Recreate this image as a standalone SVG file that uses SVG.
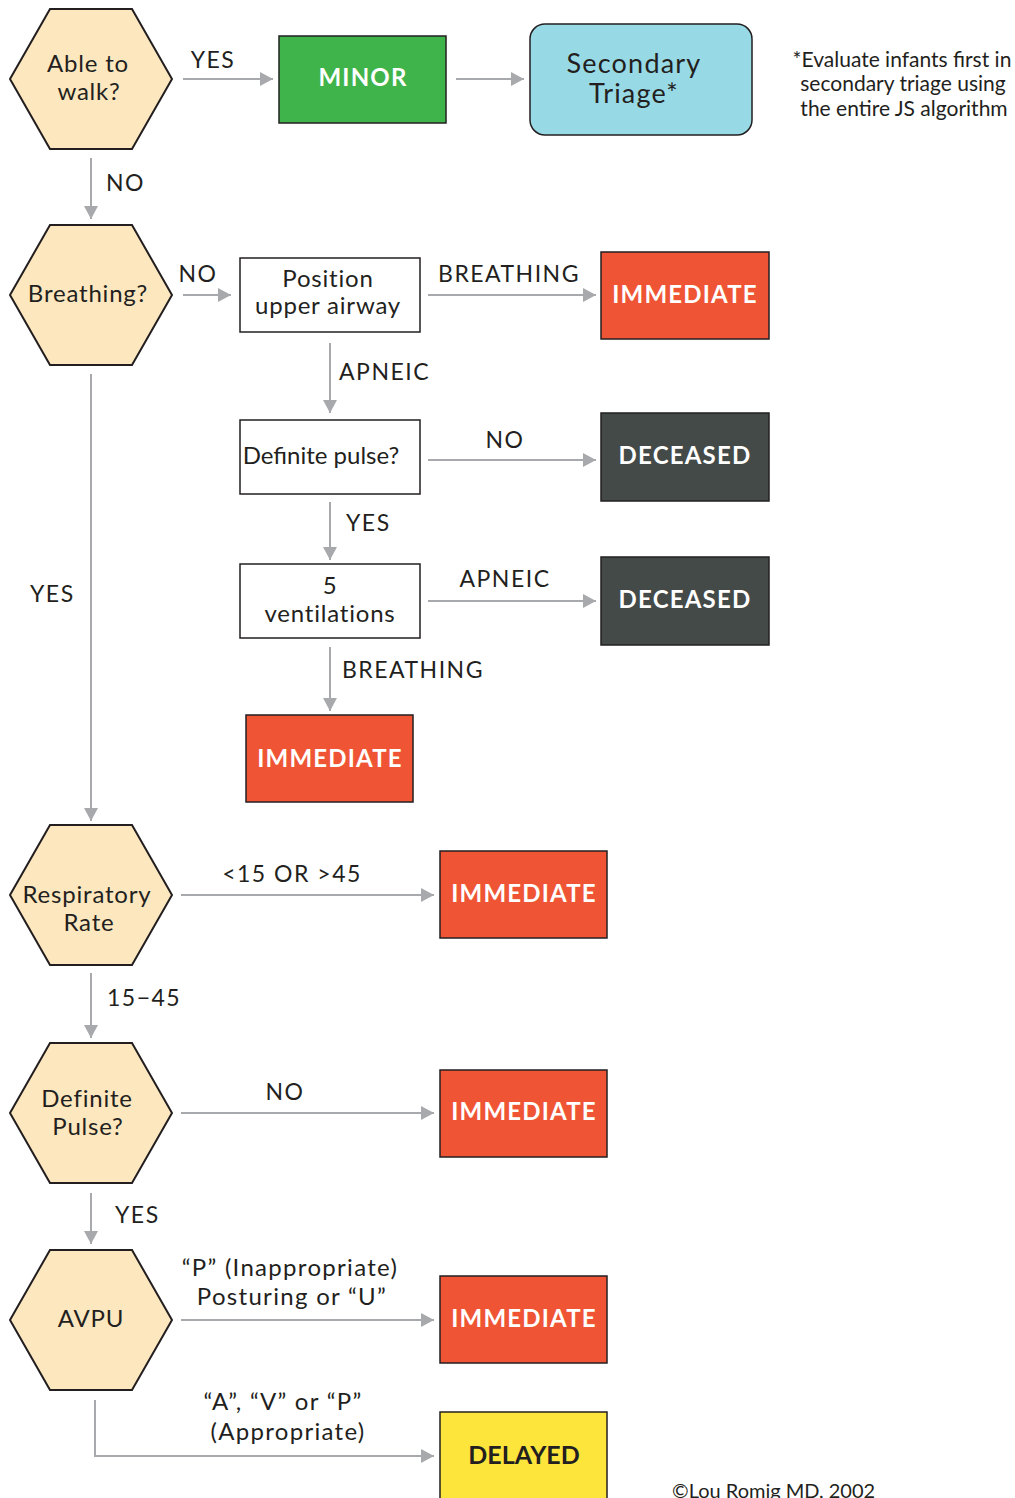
<svg xmlns="http://www.w3.org/2000/svg" width="1015" height="1498" viewBox="0 0 1015 1498">
<style>
text{font-family:Lato,"Open Sans","Liberation Sans",sans-serif;fill:#231f20}
.hex{fill:#fce7bf;stroke:#231f20;stroke-width:2}
.box{fill:#ffffff;stroke:#231f20;stroke-width:1.5}
.t{font-size:24px;text-anchor:middle;letter-spacing:0.8px}
.q{font-size:24px;text-anchor:middle;letter-spacing:1.3px}
.lbl{font-size:23px;letter-spacing:1.5px}
.lm{text-anchor:middle}
.out{stroke:#231f20;stroke-width:1.5}
.red{fill:#ef5535}
.grn{fill:#3fb44b}
.dk{fill:#434a48}
.yel{fill:#fde53b}
.bt{font-size:24px;font-weight:bold;fill:#ffffff;text-anchor:middle;letter-spacing:1.2px}
.conn{fill:none;stroke:#a7a9ac;stroke-width:2;marker-end:url(#ah)}
</style>
<defs>
<marker id="ah" markerUnits="userSpaceOnUse" markerWidth="14" markerHeight="14" refX="13" refY="7" orient="auto">
<path d="M0,0 L13,7 L0,14 z" fill="#a7a9ac"/>
</marker>
</defs>
<rect width="1015" height="1498" fill="#ffffff"/>

<g id="connectors">
<path class="conn" d="M183,79 H273"/>
<path class="conn" d="M456,79 H524"/>
<path class="conn" d="M91,158 V219"/>
<path class="conn" d="M183,295 H231"/>
<path class="conn" d="M428,295 H596"/>
<path class="conn" d="M330,343 V413"/>
<path class="conn" d="M428,460 H596"/>
<path class="conn" d="M330,502 V560"/>
<path class="conn" d="M428,601 H596"/>
<path class="conn" d="M330,647 V711"/>
<path class="conn" d="M91,374 V821"/>
<path class="conn" d="M181,895 H434"/>
<path class="conn" d="M91,973 V1038"/>
<path class="conn" d="M181,1113 H434"/>
<path class="conn" d="M91,1193 V1244"/>
<path class="conn" d="M181,1320 H434"/>
<path class="conn" d="M95,1400 V1456 H434"/>
<text class="lbl lm" x="213" y="68">YES</text>
<text class="lbl" x="106" y="191">NO</text>
<text class="lbl lm" x="198" y="282">NO</text>
<text class="lbl lm" x="509" y="282">BREATHING</text>
<text class="lbl" x="339" y="380">APNEIC</text>
<text class="lbl lm" x="505" y="448">NO</text>
<text class="lbl" x="346" y="531">YES</text>
<text class="lbl lm" x="505" y="587">APNEIC</text>
<text class="lbl" x="342" y="678">BREATHING</text>
<text class="lbl" x="30" y="602">YES</text>
<text class="lbl lm" x="292" y="882">&lt;15 OR &gt;45</text>
<text class="lbl" x="107" y="1006">15−45</text>
<text class="lbl lm" x="285" y="1100">NO</text>
<text class="lbl" x="115" y="1223">YES</text>
<text class="q" x="290" y="1276">“P” (Inappropriate)</text>
<text class="q" x="292" y="1305">Posturing or “U”</text>
<text class="q" x="283" y="1410">“A”, “V” or “P”</text>
<text class="q" x="288" y="1440">(Appropriate)</text>
</g>

<g id="n-walk">
<polygon class="hex" points="10,79 50,9 132,9 172,79 132,149 50,149"/>
<text class="t" x="88" y="72">Able to</text>
<text class="t" x="89" y="100">walk?</text>
</g>
<g id="n-minor">
<rect class="grn out" x="279" y="36" width="167" height="87"/>
<text class="bt" x="363" y="86">MINOR</text>
</g>
<g id="n-secondary">
<rect x="530" y="24" width="222" height="111" rx="15" fill="#98d9e6" stroke="#231f20" stroke-width="1.5"/>
<text class="t" x="634" y="73" style="font-size:27px;letter-spacing:1.2px">Secondary</text>
<text class="t" x="634" y="103" style="font-size:27px;letter-spacing:1.2px">Triage*</text>
</g>
<g id="note">
<text class="lm" x="902" y="67" font-size="21">*Evaluate infants first in</text>
<text class="lm" x="903" y="91" font-size="21">secondary triage using</text>
<text class="lm" x="904" y="116" font-size="21">the entire JS algorithm</text>
</g>

<g id="n-breathing">
<polygon class="hex" points="10,295 50,225 132,225 172,295 132,365 50,365"/>
<text class="t" x="88" y="302">Breathing?</text>
</g>
<g id="n-position">
<rect class="box" x="240" y="258" width="180" height="74"/>
<text class="t" x="328" y="287">Position</text>
<text class="t" x="328" y="314">upper airway</text>
</g>
<g id="n-imm1">
<rect class="red out" x="601" y="252" width="168" height="87"/>
<text class="bt" x="685" y="303">IMMEDIATE</text>
</g>
<g id="n-pulse1">
<rect class="box" x="240" y="420" width="180" height="74"/>
<text x="321" y="464" font-size="24" text-anchor="middle">Definite pulse?</text>
</g>
<g id="n-dec1">
<rect class="dk out" x="601" y="413" width="168" height="88"/>
<text class="bt" x="685" y="464">DECEASED</text>
</g>
<g id="n-vent">
<rect class="box" x="240" y="564" width="180" height="74"/>
<text class="t" x="330" y="594">5</text>
<text class="t" x="330" y="622">ventilations</text>
</g>
<g id="n-dec2">
<rect class="dk out" x="601" y="557" width="168" height="88"/>
<text class="bt" x="685" y="608">DECEASED</text>
</g>
<g id="n-imm2">
<rect class="red out" x="246" y="715" width="167" height="87"/>
<text class="bt" x="330" y="767">IMMEDIATE</text>
</g>

<g id="n-resp">
<polygon class="hex" points="10,895 50,825 132,825 172,895 132,965 50,965"/>
<text class="t" x="87" y="903">Respiratory</text>
<text class="t" x="89" y="931">Rate</text>
</g>
<g id="n-imm3">
<rect class="red out" x="440" y="851" width="167" height="87"/>
<text class="bt" x="524" y="902">IMMEDIATE</text>
</g>
<g id="n-pulse2">
<polygon class="hex" points="10,1113 50,1043 132,1043 172,1113 132,1183 50,1183"/>
<text class="t" x="87" y="1107">Definite</text>
<text class="t" x="88" y="1135">Pulse?</text>
</g>
<g id="n-imm4">
<rect class="red out" x="440" y="1070" width="167" height="87"/>
<text class="bt" x="524" y="1120">IMMEDIATE</text>
</g>
<g id="n-avpu">
<polygon class="hex" points="10,1320 50,1250 132,1250 172,1320 132,1390 50,1390"/>
<text class="t" x="91" y="1327">AVPU</text>
</g>
<g id="n-imm5">
<rect class="red out" x="440" y="1276" width="167" height="87"/>
<text class="bt" x="524" y="1327">IMMEDIATE</text>
</g>
<g id="n-delayed">
<rect class="yel out" x="440" y="1412" width="167" height="100"/>
<text class="bt" x="524" y="1464" style="fill:#231f20;letter-spacing:0px;font-size:25px">DELAYED</text>
</g>
<g id="copyright">
<text x="672" y="1498" font-size="20">©Lou Romig MD, 2002</text>
</g>
</svg>
